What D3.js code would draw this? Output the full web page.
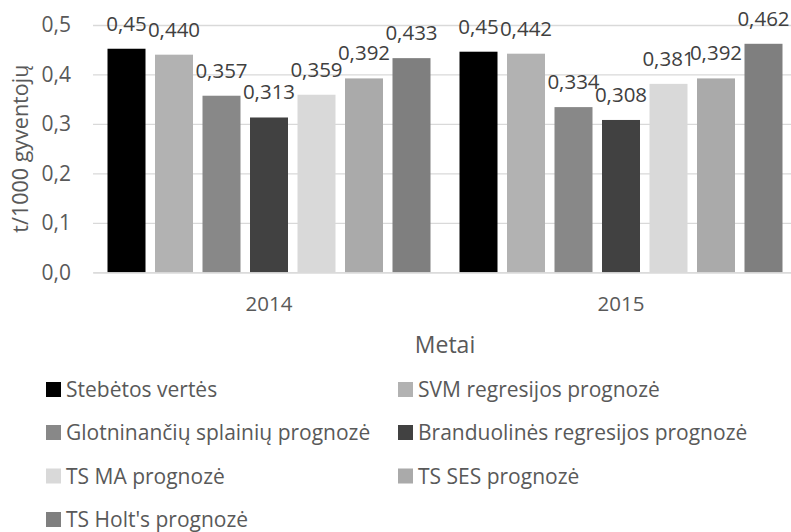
<!DOCTYPE html>
<html>
<head>
<meta charset="utf-8">
<script src="https://cdn.jsdelivr.net/npm/d3@7/dist/d3.min.js"></script>
<style>
  html, body { margin: 0; padding: 0; background: #fff; }
  svg { display: block; font-family: "Open Sans", sans-serif; }
</style>
</head>
<body>
<svg id="chart" width="791" height="532"></svg>
<script>
const years = ["2014", "2015"];
const seriesNames = [
  "Stebėtos vertės",
  "SVM regresijos prognozė",
  "Glotninančių splainių prognozė",
  "Branduolinės regresijos prognozė",
  "TS MA prognozė",
  "TS SES prognozė",
  "TS Holt's prognozė"
];
const seriesColors = ["#000000", "#b2b2b2", "#888888", "#414141", "#d9d9d9", "#aaaaaa", "#7f7f7f"];
const values2014 = [0.452, 0.440, 0.357, 0.313, 0.359, 0.392, 0.433];
const values2015 = [0.446, 0.442, 0.334, 0.308, 0.381, 0.392, 0.462];
const labelDecimals = [2, 3, 3, 3, 3, 3, 3];
const yTicks = [0, 0.1, 0.2, 0.3, 0.4, 0.5];
const yTitle = "t/1000 gyventojų";
const xTitle = "Metai";

const valuesByYear = { "2014": values2014, "2015": values2015 };
const comma = s => s.replace(".", ",");

const svg = d3.select("#chart");
const plotLeft = 93, plotRight = 797, plotTop = 25, plotBottom = 272.3;

const x0 = d3.scaleBand().domain(years).range([plotLeft, plotRight]).paddingInner(0.0824).paddingOuter(0.0412);
const x1 = d3.scaleBand().domain(seriesNames).range([0, x0.bandwidth()]).paddingInner(0.2).paddingOuter(0);
const y = d3.scaleLinear().domain([0, 0.5]).range([plotBottom, plotTop]);

// gridlines
const grid = svg.append("g").attr("transform", `translate(${plotLeft},0)`)
  .call(d3.axisLeft(y).tickValues(yTicks).tickSize(-(plotRight - plotLeft)).tickFormat(""));
grid.select(".domain").remove();
grid.selectAll("line").attr("stroke", "#d9d9d9").attr("stroke-width", 1.3);

// y tick labels
const yAxis = svg.append("g").attr("transform", `translate(${plotLeft},0)`)
  .call(d3.axisLeft(y).tickValues(yTicks).tickSize(0).tickPadding(22).tickFormat(d => comma(d3.format(".1f")(d))));
yAxis.select(".domain").remove();
yAxis.selectAll("text").attr("font-size", 21).attr("fill", "#595959").attr("font-family", "Open Sans");

// bars
const data = [];
years.forEach(yr => seriesNames.forEach((s, i) => data.push({ year: yr, series: s, i, v: valuesByYear[yr][i] })));

svg.append("g").selectAll("rect").data(data).join("rect")
  .attr("x", d => x0(d.year) + x1(d.series))
  .attr("y", d => y(d.v))
  .attr("width", x1.bandwidth())
  .attr("height", d => y(0) - y(d.v))
  .attr("fill", d => seriesColors[d.i]);

// data labels
svg.append("g").selectAll("text").data(data).join("text")
  .attr("x", d => x0(d.year) + x1(d.series) + x1.bandwidth() / 2)
  .attr("y", d => y(d.v) - 18)
  .attr("text-anchor", "middle")
  .attr("font-size", 20.5)
  .attr("fill", "#404040")
  .text(d => comma(d3.format("." + labelDecimals[d.i] + "f")(d.v)));

// x axis labels
const xAxis = svg.append("g").attr("transform", `translate(0,${plotBottom})`)
  .call(d3.axisBottom(x0).tickSize(0).tickPadding(24));
xAxis.select(".domain").attr("stroke", "#d9d9d9").attr("stroke-width", 1.3);
xAxis.selectAll("text").attr("font-size", 20.5).attr("fill", "#595959").attr("font-family", "Open Sans");

// axis titles
svg.append("text")
  .attr("x", (plotLeft + plotRight) / 2).attr("y", 353)
  .attr("text-anchor", "middle").attr("font-size", 23).attr("fill", "#595959")
  .text(xTitle);
svg.append("text")
  .attr("transform", `translate(28,${(plotTop + plotBottom) / 2}) rotate(-90)`)
  .attr("text-anchor", "middle").attr("font-size", 21.5).attr("fill", "#595959")
  .text(yTitle);

// legend
const legendCols = [46, 398];
const legendRows = [397, 440, 483.5, 527];
const leg = svg.append("g").selectAll("g").data(seriesNames).join("g")
  .attr("transform", (d, i) => `translate(${legendCols[i % 2]},${legendRows[Math.floor(i / 2)]})`);
leg.append("rect").attr("x", 0).attr("y", -15).attr("width", 15).attr("height", 15)
  .attr("fill", (d, i) => seriesColors[i]);
leg.append("text").attr("x", 20).attr("y", 0).attr("font-size", 21).attr("fill", "#595959")
  .text(d => d);
</script>
</body>
</html>
